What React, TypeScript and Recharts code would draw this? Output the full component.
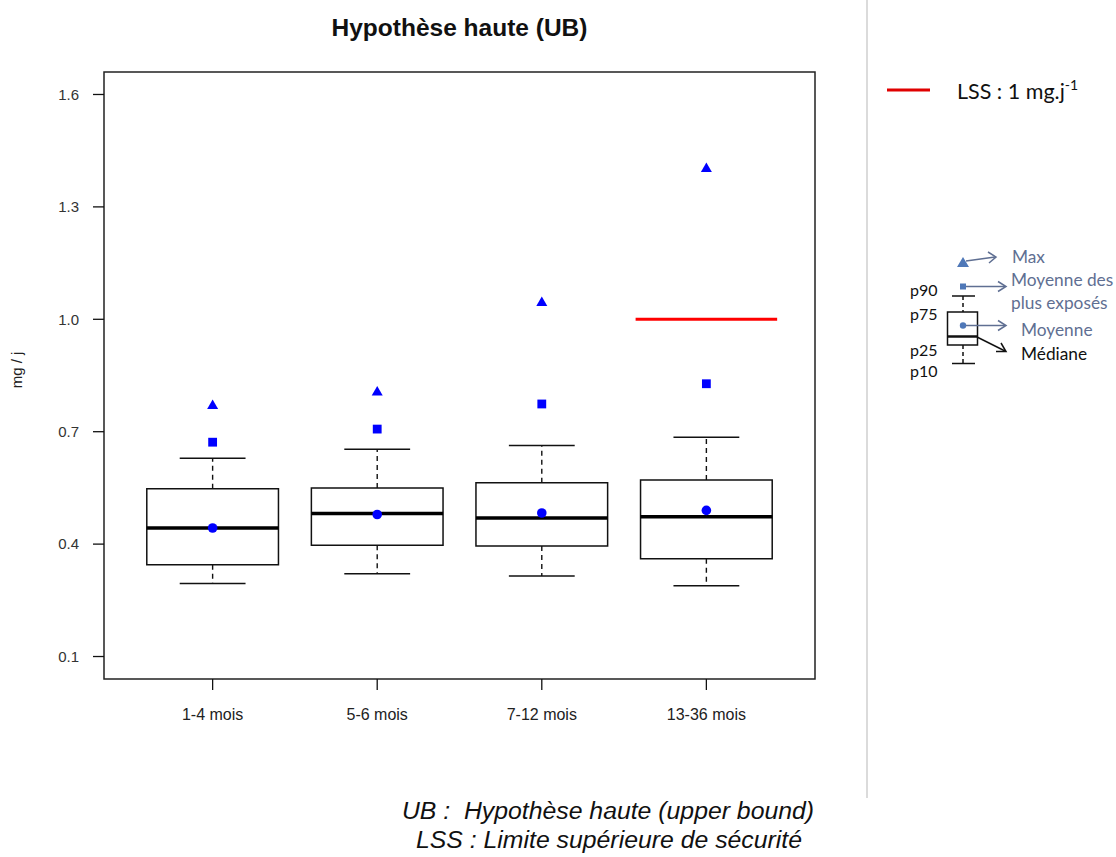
import React from 'react';
import { ScatterChart, Scatter, XAxis, YAxis, ReferenceArea, ReferenceLine } from 'recharts';

const categories = ['1-4 mois', '5-6 mois', '7-12 mois', '13-36 mois'];
const p10 = [0.295, 0.321, 0.315, 0.289];
const p25 = [0.345, 0.397, 0.395, 0.361];
const median = [0.443, 0.482, 0.47, 0.473];
const p75 = [0.548, 0.55, 0.564, 0.571];
const p90 = [0.629, 0.653, 0.663, 0.685];
const mean = [0.443, 0.479, 0.483, 0.49];
const meanTop = [0.672, 0.707, 0.774, 0.828];
const maxValues = [0.772, 0.808, 1.047, 1.404];
const lssValue = 1.0;
const lssCategory = 4;
const yTicks = [0.1, 0.4, 0.7, 1.0, 1.3, 1.6];
const xDomain = [0.34, 4.66];
const yDomain = [0.04, 1.66];

const BOX_HALF = 0.4;
const CAP_HALF = 0.2;
const LSS_HALF = 0.43;
const BLUE = '#0000ff';

const meanData = categories.map((c, i) => ({ x: i + 1, y: mean[i] }));
const meanTopData = categories.map((c, i) => ({ x: i + 1, y: meanTop[i] }));
const maxData = categories.map((c, i) => ({ x: i + 1, y: maxValues[i] }));

const circleShape = (p: any) => <circle cx={p.cx} cy={p.cy} r={4.8} fill={BLUE} />;
const squareShape = (p: any) => <rect x={p.cx - 4.4} y={p.cy - 4.4} width={8.8} height={8.8} fill={BLUE} />;
const triangleShape = (p: any) => (
  <polygon points={`${p.cx - 5.5},${p.cy + 4.2} ${p.cx + 5.5},${p.cy + 4.2} ${p.cx},${p.cy - 5.3}`} fill={BLUE} />
);

const FONT = '"Liberation Sans", Arial, sans-serif';
const LFONT = 'Lato, "Noto Sans", sans-serif';
const SLATE = '#5f6f92';
const SLATE_DOT = '#4f78b8';

export default function App() {
  return (
    <div style={{ position: 'absolute', left: 0, top: 0, width: 1116, height: 857, background: '#fff', fontFamily: FONT }}>
      <div style={{ position: 'absolute', left: 0, top: 0 }}>
        <ScatterChart width={860} height={857} margin={{ top: 72, right: 45, bottom: 138, left: 0 }}>
          <XAxis
            type="number"
            dataKey="x"
            domain={xDomain}
            allowDataOverflow
            ticks={[1, 2, 3, 4]}
            tickFormatter={(v: number) => categories[Math.round(v) - 1]}
            tickSize={11}
            tickMargin={19}
            height={40}
            axisLine={false}
            tickLine={{ stroke: '#111', strokeWidth: 1.3 }}
            tick={{ fill: '#222', fontSize: 16, fontFamily: FONT }}
          />
          <YAxis
            type="number"
            dataKey="y"
            domain={yDomain}
            allowDataOverflow
            ticks={yTicks}
            tickFormatter={(v: number) => v.toFixed(1)}
            tickSize={11}
            tickMargin={14}
            width={104}
            axisLine={false}
            tickLine={{ stroke: '#111', strokeWidth: 1.3 }}
            tick={{ fill: '#333', fontSize: 15, fontFamily: FONT }}
          />
          <ReferenceArea
            x1={xDomain[0]}
            x2={xDomain[1]}
            y1={yDomain[0]}
            y2={yDomain[1]}
            fill="none"
            stroke="#222"
            strokeWidth={1.5}
            ifOverflow="visible"
          />
          {categories.map((c, i) => (
            <ReferenceArea
              key={'box' + i}
              x1={i + 1 - BOX_HALF}
              x2={i + 1 + BOX_HALF}
              y1={p25[i]}
              y2={p75[i]}
              fill="none"
              stroke="#111"
              strokeWidth={1.5}
              ifOverflow="visible"
            />
          ))}
          {categories.map((c, i) => (
            <ReferenceLine
              key={'wu' + i}
              segment={[{ x: i + 1, y: p75[i] }, { x: i + 1, y: p90[i] }]}
              stroke="#111"
              strokeWidth={1.4}
              strokeDasharray="5 4"
              ifOverflow="visible"
            />
          ))}
          {categories.map((c, i) => (
            <ReferenceLine
              key={'wl' + i}
              segment={[{ x: i + 1, y: p25[i] }, { x: i + 1, y: p10[i] }]}
              stroke="#111"
              strokeWidth={1.4}
              strokeDasharray="5 4"
              ifOverflow="visible"
            />
          ))}
          {categories.map((c, i) => (
            <ReferenceLine
              key={'cu' + i}
              segment={[{ x: i + 1 - CAP_HALF, y: p90[i] }, { x: i + 1 + CAP_HALF, y: p90[i] }]}
              stroke="#111"
              strokeWidth={1.5}
              ifOverflow="visible"
            />
          ))}
          {categories.map((c, i) => (
            <ReferenceLine
              key={'cl' + i}
              segment={[{ x: i + 1 - CAP_HALF, y: p10[i] }, { x: i + 1 + CAP_HALF, y: p10[i] }]}
              stroke="#111"
              strokeWidth={1.5}
              ifOverflow="visible"
            />
          ))}
          {categories.map((c, i) => (
            <ReferenceLine
              key={'med' + i}
              segment={[{ x: i + 1 - BOX_HALF, y: median[i] }, { x: i + 1 + BOX_HALF, y: median[i] }]}
              stroke="#000"
              strokeWidth={3.5}
              ifOverflow="visible"
            />
          ))}
          <ReferenceLine
            segment={[{ x: lssCategory - LSS_HALF, y: lssValue }, { x: lssCategory + LSS_HALF, y: lssValue }]}
            stroke="#ff0000"
            strokeWidth={3}
            ifOverflow="visible"
          />
          <Scatter data={meanData} shape={circleShape} isAnimationActive={false} />
          <Scatter data={meanTopData} shape={squareShape} isAnimationActive={false} />
          <Scatter data={maxData} shape={triangleShape} isAnimationActive={false} />
        </ScatterChart>
      </div>
      <svg width={1116} height={857} style={{ position: 'absolute', left: 0, top: 0, pointerEvents: 'none' }}>
        <text x={459.5} y={36} textAnchor="middle" fontSize={24.5} fontWeight="bold" fill="#111" fontFamily={FONT}>
          Hypothèse haute (UB)
        </text>
        <text x={0} y={0} transform="translate(22,370) rotate(-90)" textAnchor="middle" fontSize={15} fill="#222" fontFamily={FONT}>
          mg / j
        </text>
        <line x1={867} y1={0} x2={867} y2={798} stroke="#cfcfcf" strokeWidth={1.5} />

        <line x1={887} y1={90} x2={930} y2={90} stroke="#e00000" strokeWidth={3} />
        <text x={957} y={99} fontSize={21.5} fill="#111" fontFamily={LFONT}>
          LSS : 1 mg.j<tspan dy={-9} fontSize={14}>-1</tspan>
        </text>

        {/* mini boxplot key */}
        <polygon points="957,267 969,267 963,257" fill={SLATE_DOT} />
        <line x1={966} y1={261} x2={995} y2={257} stroke={SLATE} strokeWidth={1.5} />
        <polyline points="988,252 996,257 989,263" fill="none" stroke={SLATE} strokeWidth={1.5} />
        <text x={1012} y={263} fontSize={17.3} fill={SLATE} fontFamily={LFONT}>Max</text>

        <rect x={960} y={283.5} width={6} height={6} fill={SLATE_DOT} />
        <line x1={966} y1={286.5} x2={1005} y2={286.5} stroke={SLATE} strokeWidth={1.5} />
        <polyline points="998,281.5 1006,286.5 998,291.5" fill="none" stroke={SLATE} strokeWidth={1.5} />
        <text x={1011} y={286} fontSize={17.3} fill={SLATE} fontFamily={LFONT}>Moyenne des</text>
        <text x={1011} y={309} fontSize={17.3} fill={SLATE} fontFamily={LFONT}>plus exposés</text>

        <line x1={952} y1={296} x2={975} y2={296} stroke="#111" strokeWidth={1.5} />
        <line x1={963} y1={296} x2={963} y2={312} stroke="#111" strokeWidth={1.5} strokeDasharray="4 3" />
        <rect x={947.5} y={312} width={30} height={33} fill="none" stroke="#111" strokeWidth={1.5} />
        <line x1={947.5} y1={336.5} x2={977.5} y2={336.5} stroke="#111" strokeWidth={2.5} />
        <line x1={963} y1={345} x2={963} y2={363} stroke="#111" strokeWidth={1.5} strokeDasharray="4 3" />
        <line x1={952} y1={363.5} x2={975} y2={363.5} stroke="#111" strokeWidth={1.5} />
        <circle cx={963} cy={325.5} r={3.2} fill={SLATE_DOT} />
        <line x1={966} y1={325.5} x2={1005} y2={325.5} stroke={SLATE} strokeWidth={1.5} />
        <polyline points="998,320.5 1006,325.5 998,330.5" fill="none" stroke={SLATE} strokeWidth={1.5} />
        <text x={1021} y={336} fontSize={17.3} fill={SLATE} fontFamily={LFONT}>Moyenne</text>
        <line x1={977} y1={337} x2={1005} y2={351} stroke="#111" strokeWidth={1.5} />
        <polyline points="996,351.5 1006,351.5 1001,343" fill="none" stroke="#111" strokeWidth={1.5} />
        <text x={1021} y={360} fontSize={17.3} fill="#111" fontFamily={LFONT}>Médiane</text>

        <text x={910} y={296} fontSize={16} fill="#111" fontFamily={LFONT}>p90</text>
        <text x={910} y={320} fontSize={16} fill="#111" fontFamily={LFONT}>p75</text>
        <text x={910} y={356} fontSize={16} fill="#111" fontFamily={LFONT}>p25</text>
        <text x={910} y={377} fontSize={16} fill="#111" fontFamily={LFONT}>p10</text>

        <text x={608} y={819} textAnchor="middle" fontSize={24.8} fontStyle="italic" fill="#111" fontFamily={FONT} style={{ whiteSpace: 'pre' }}>
          {'UB :  Hypothèse haute (upper bound)'}
        </text>
        <text x={609} y={848} textAnchor="middle" fontSize={24.8} fontStyle="italic" fill="#111" fontFamily={FONT}>
          LSS : Limite supérieure de sécurité
        </text>
      </svg>
    </div>
  );
}
